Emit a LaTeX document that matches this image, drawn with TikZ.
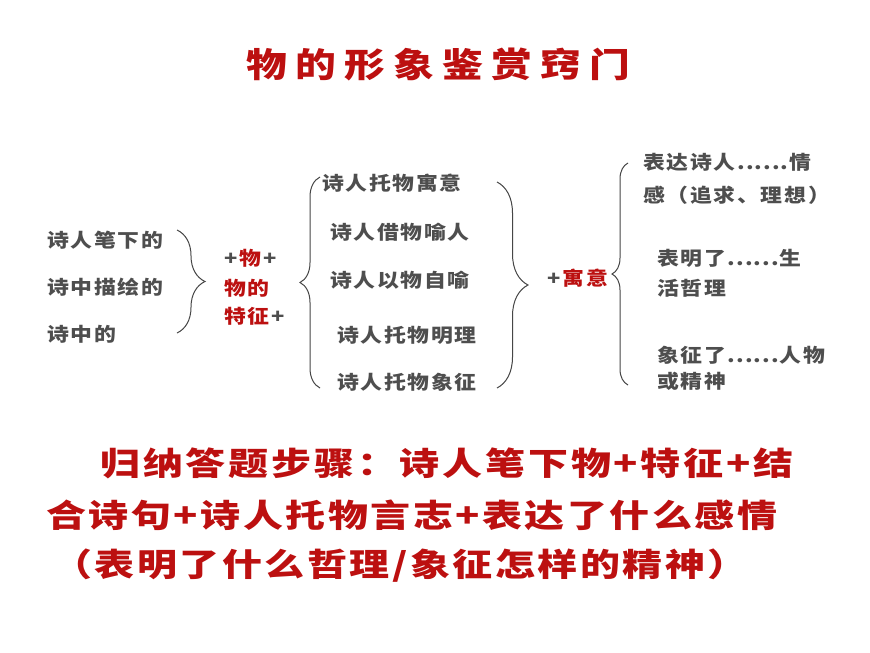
\documentclass[tikz,border=0pt]{standalone}
\usepackage{fontspec}
\setmainfont{Noto Sans CJK SC}
\newfontfamily\zh{Noto Sans CJK SC}[FakeStretch=1.15]
\newfontfamily\zhw{Noto Sans CJK SC}[FakeStretch=1.25]
\newfontfamily\zht{Noto Sans CJK SC}[FakeStretch=1.2]
\usetikzlibrary{decorations.pathreplacing}
\definecolor{tgray}{RGB}{78,78,78}
\definecolor{tred}{RGB}{188,16,16}
\definecolor{bgray}{RGB}{70,70,70}
\makeatletter
\newcommand\lsp[2]{\def\lsp@g{#1}\@tfor\lsp@c:=#2\do{\lsp@c\kern\lsp@g}}
\makeatother
\tikzset{
  txt/.style={anchor=west, inner sep=0pt, text=tgray, font=\zh\bfseries\fontsize{19}{23}\selectfont},
  ttl/.style={anchor=west, inner sep=0pt, text=tred, font=\zht\bfseries\fontsize{34}{40}\selectfont},
  big/.style={anchor=west, inner sep=0pt, text=tred, font=\zhw\bfseries\fontsize{32}{38}\selectfont},
  brc/.style={decorate, decoration={brace, amplitude=#1}, draw=bgray, line width=1pt}
}
\begin{document}
\begin{tikzpicture}[x=1pt,y=-1pt]
\path[use as bounding box, fill=white] (0,0) rectangle (870,653);
% title
\node[ttl] (title) at (246,64) {\lsp{8.2pt}{物的形象鉴赏窍门}};
% left column
\node[txt] (l1) at (47,240) {\lsp{1.7pt}{诗人笔下的}};
\node[txt] (l2) at (47,287) {\lsp{1.7pt}{诗中描绘的}};
\node[txt] (l3) at (47,334) {\lsp{1.7pt}{诗中的}};
\coordinate (b1t) at (177,230);
\coordinate (b1b) at (177,333);
\draw[brc=28] (b1t) -- (b1b);
% middle labels
\node[txt] (m1) at (224,258) {\lsp{2pt}{+}\textcolor{tred}{\lsp{2pt}{物}}\lsp{2pt}{+}};
\node[txt] (m2) at (224,288) {\textcolor{tred}{\lsp{1.7pt}{物的}}};
\node[txt] (m3) at (224,316) {\textcolor{tred}{\lsp{1.7pt}{特征}}\lsp{2pt}{+}};
\coordinate (b2b) at (320,388);
\coordinate (b2t) at (320,177);
\draw[brc=20] (b2b) -- (b2t);
% list
\node[txt] (c1) at (322,183) {\lsp{1.7pt}{诗人托物寓意}};
\node[txt] (c2) at (330,232) {\lsp{1.7pt}{诗人借物喻人}};
\node[txt] (c3) at (330,280) {\lsp{1.7pt}{诗人以物自喻}};
\node[txt] (c4) at (337,335) {\lsp{1.7pt}{诗人托物明理}};
\node[txt] (c5) at (337,382) {\lsp{1.7pt}{诗人托物象征}};
\coordinate (b3t) at (497,182);
\coordinate (b3b) at (497,388);
\draw[brc=31] (b3t) -- (b3b);
\node[txt] (y1) at (547,278) {\lsp{2pt}{+}\textcolor{tred}{\lsp{1.7pt}{寓意}}};
\coordinate (b4b) at (628,385);
\coordinate (b4t) at (628,163);
\draw[brc=16] (b4b) -- (b4t);
% right column
\node[txt] (r1) at (643,162) {\lsp{1.7pt}{表达诗人}\lsp{1pt}{......}\lsp{1.7pt}{情}};
\node[txt] (r2) at (643,195) {\lsp{1.7pt}{感（追求、理想）}};
\node[txt] (r3) at (657,258) {\lsp{1.7pt}{表明了}\lsp{1pt}{......}\lsp{1.7pt}{生}};
\node[txt] (r4) at (657,288) {\lsp{1.7pt}{活哲理}};
\node[txt] (r5) at (657,355) {\lsp{1.7pt}{象征了}\lsp{1pt}{......}\lsp{1.7pt}{人物}};
\node[txt] (r6) at (657,381) {\lsp{1.7pt}{或精神}};
% summary
\node[big] (s1) at (100,463) {\lsp{2.8pt}{归纳答题步骤：诗人笔下物+特征+结}};
\node[big] (s2) at (46,515) {\lsp{2.5pt}{合诗句+诗人托物言志+表达了什么感情}};
\node[big] (s3) at (52,566) {\lsp{2.5pt}{（表明了什么哲理/象征怎样的精神）}};
\end{tikzpicture}
\end{document}
